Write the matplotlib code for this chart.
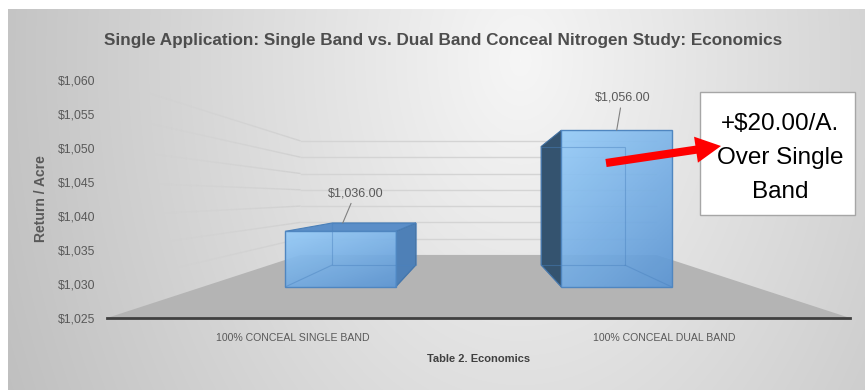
import numpy as np
import matplotlib
matplotlib.use("Agg")
import matplotlib.pyplot as plt
from matplotlib.patches import Polygon, Rectangle, FancyArrowPatch
from matplotlib.collections import LineCollection
from matplotlib.ticker import FuncFormatter

# data
categories = ['100% CONCEAL SINGLE BAND', '100% CONCEAL DUAL BAND']
returns = [1036.00, 1056.00]
y_ticks = [1025, 1030, 1035, 1040, 1045, 1050, 1055, 1060]
title = 'Single Application: Single Band vs. Dual Band Conceal Nitrogen Study: Economics'
x_title = 'Table 2. Economics'
y_title = 'Return / Acre'
callout = '+$20.00/A.\nOver Single\nBand'

plt.rcParams['font.family'] = ['Liberation Sans', 'DejaVu Sans']
GREY = '#595959'

W, H = 865, 390
fig = plt.figure(figsize=(W / 100, H / 100), dpi=100, facecolor='white')


def fx(px):
    return px / W


def fy(py):
    return 1 - py / H


# background gradient (light in the middle top, grey at the sides)
bg = fig.add_axes([fx(8), 0, 1 - fx(8), fy(9)], zorder=-1)
yy, xx = np.mgrid[9:390, 8:865]
d = np.sqrt(((xx - 520) / 420.0) ** 2 + ((yy - 60) / 600.0) ** 2)
g = np.clip(0.965 - 0.16 * d, 0, 1)
bg.imshow(np.dstack([g, g, g]), aspect='auto', extent=(0, 1, 0, 1))
bg.axis('off')

# main axes = front plane of the 3d box
ax = fig.add_axes([fx(107), fy(318), fx(850 - 107), (318 - 80) / H])
ax.set_facecolor('none')
ax.set_autoscale_on(False)
ax.set_xlim(-0.5, 1.5)
ax.set_ylim(y_ticks[0], y_ticks[-1])

# perspective: points pulled toward a vanishing point, s = depth scale
VX, VY = 0.5, 1042.8
S_WALL = 0.479
S_FRONT = 0.744
S_BACK = 0.562
HALF = 0.2


def proj(x, v, s):
    return (VX + s * (x - VX), VY + s * (v - VY))


base = y_ticks[0]

# floor
floor = [proj(-0.5, base, 1), proj(-0.5, base, S_WALL), proj(1.5, base, S_WALL), proj(1.5, base, 1)]
ax.add_patch(Polygon(floor, closed=True, fc='#b4b4b4', ec='none', zorder=1, clip_on=False))

# gridlines on left wall (fading) and back wall
for v in y_ticks[1:]:
    p0 = np.array(proj(-0.5, v, 1))
    p1 = np.array(proj(-0.5, v, S_WALL))
    p2 = np.array(proj(1.5, v, S_WALL))
    t = np.linspace(0, 1, 40)
    pts = p0[None, :] + t[:, None] * (p1 - p0)[None, :]
    segs = np.stack([pts[:-1], pts[1:]], axis=1)
    cols = [(0.82, 0.82, 0.82, a) for a in 0.15 + 0.85 * t[1:] ** 1.2]
    ax.add_collection(LineCollection(segs, colors=cols, lw=1, zorder=0.5, clip_on=False))
    ax.plot([p1[0], p2[0]], [p1[1], p2[1]], color='#d4d4d4', lw=1, zorder=0.5, clip_on=False)

# bars
light = np.array([0x95, 0xcb, 0xf8]) / 255.0
dark = np.array([0x5c, 0x96, 0xd4]) / 255.0
r, c = np.mgrid[0:1:60j, 0:1:60j]
tt = (0.6 * r + 0.4 * c)[..., None]
grad = light * (1 - tt) + dark * tt

for i, val in enumerate(returns):
    x0, x1 = i - HALF, i + HALF
    f = [proj(x0, base, S_FRONT), proj(x1, base, S_FRONT), proj(x1, val, S_FRONT), proj(x0, val, S_FRONT)]
    b = [proj(x0, base, S_BACK), proj(x1, base, S_BACK), proj(x1, val, S_BACK), proj(x0, val, S_BACK)]
    if i < VX:
        side = [f[1], b[1], b[2], f[2]]
        side_col = '#4e80b7'
    else:
        side = [f[0], b[0], b[3], f[3]]
        side_col = '#34536f'
    ax.add_patch(Polygon(side, closed=True, fc=side_col, ec='#3f6e9f', lw=0.8, zorder=3, clip_on=False))
    if val < VY:
        top = [f[3], f[2], b[2], b[3]]
        ax.add_patch(Polygon(top, closed=True, fc='#5b8ec8', ec='#4a7fb8', lw=0.8, zorder=3, clip_on=False))
    ax.imshow(grad, extent=(f[0][0], f[1][0], f[0][1], f[2][1]), aspect='auto',
              zorder=4, alpha=0.92, clip_on=False)
    # hidden edges seen through the face
    inner = [[b[0], b[1]], [b[0], b[3]], [f[0], b[0]], [b[1], b[2]], [b[2], b[3]], [f[1], b[1]]]
    ax.add_collection(LineCollection(inner, colors='#4a82bf', lw=0.8, alpha=0.45, zorder=5))
    ax.add_patch(Polygon(f, closed=True, fill=False, ec='#4f86c0', lw=1, zorder=5, clip_on=False))

# data labels with leader lines
label_dx = [-0.15, 0.0]
label_depth = [S_BACK, S_FRONT]
label_off = [(9, 17), (4, 19)]
for i, val in enumerate(returns):
    ax.annotate('${:,.2f}'.format(val), xy=proj(i + label_dx[i], val, label_depth[i]),
                xytext=label_off[i], textcoords='offset points', ha='center', va='bottom',
                fontsize=9, color=GREY, annotation_clip=False, zorder=6,
                arrowprops=dict(arrowstyle='-', color='#808080', lw=0.8, shrinkA=1, shrinkB=0))

# axes styling
for side in ['top', 'right', 'left']:
    ax.spines[side].set_visible(False)
ax.spines['bottom'].set_color('#404040')
ax.spines['bottom'].set_linewidth(2)
ax.spines['bottom'].set_zorder(2)
ax.set_yticks(y_ticks)
ax.yaxis.set_major_formatter(FuncFormatter(lambda v, p: '${:,.0f}'.format(v)))
ax.set_xticks(range(len(categories)))
ax.set_xticklabels(categories)
ax.tick_params(axis='y', length=0, pad=8.5, labelsize=8.8, labelcolor=GREY)
ax.tick_params(axis='x', length=0, pad=11, labelsize=7.6, labelcolor=GREY)
ax.set_xlabel(x_title, fontsize=8, fontweight='bold', color='#404040', labelpad=8)
ax.set_ylabel(y_title, fontsize=10, fontweight='bold', color=GREY, labelpad=7)

fig.text(fx(443), fy(40), title, ha='center', va='center', fontsize=12.3,
         fontweight='bold', color='#4d4d4d')

# callout box and arrow
fig.add_artist(Rectangle((fx(700), fy(215)), fx(155), 123 / H, transform=fig.transFigure,
                         fc='white', ec='#a6a6a6', lw=1, zorder=2))
fig.text(fx(780), fy(158), callout, ha='center', va='center', fontsize=17.5,
         linespacing=1.72, color='black', zorder=4)
fig.add_artist(FancyArrowPatch((fx(606), fy(163)), (fx(721), fy(146)), transform=fig.transFigure,
                               arrowstyle='simple,head_length=1.3,head_width=1.35,tail_width=0.42',
                               mutation_scale=14, fc='#ff0000', ec='none', zorder=3,
                               shrinkA=0, shrinkB=0))

fig.savefig('out.png', dpi=100, facecolor='white')
